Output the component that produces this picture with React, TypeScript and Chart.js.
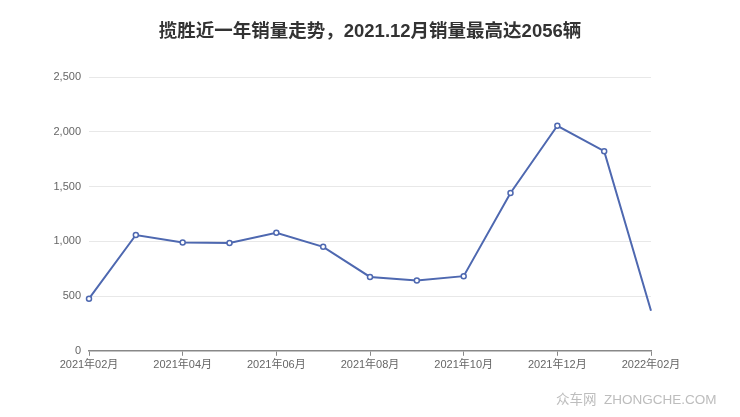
import React, { useEffect, useRef } from "react";
import { Chart, registerables } from "chart.js";

Chart.register(...registerables);

const titleText = "揽胜近一年销量走势，2021.12月销量最高达2056辆";
const months = [
  "2021年02月", "2021年03月", "2021年04月", "2021年05月", "2021年06月", "2021年07月",
  "2021年08月", "2021年09月", "2021年10月", "2021年11月", "2021年12月", "2022年01月", "2022年02月",
];
const sales = [476, 1058, 990, 986, 1078, 950, 675, 642, 682, 1442, 2056, 1824, 366];
const yTicks = [0, 500, 1000, 1500, 2000, 2500];
const watermark = "众车网  ZHONGCHE.COM";

const FONT = "'Liberation Sans', Arial, 'Noto Sans CJK SC', sans-serif";

export default function App() {
  const ref = useRef<HTMLCanvasElement | null>(null);
  useEffect(() => {
    if (!ref.current) return;
    const last = sales.length - 1;
    const chart = new Chart(ref.current, {
      type: "line",
      data: {
        labels: months,
        datasets: [
          {
            data: sales,
            borderColor: "#4e68b0",
            backgroundColor: "#ffffff",
            borderWidth: 2,
            pointRadius: (ctx: any) => (ctx.dataIndex === last ? 0 : 2.5),
            pointBorderWidth: 1.5,
            pointBorderColor: "#4e68b0",
            pointBackgroundColor: "#ffffff",
            tension: 0,
            clip: false as any,
          },
        ],
      },
      options: {
        responsive: false,
        animation: false,
        layout: { padding: { left: 0, right: 0, top: 0, bottom: 42 } },
        plugins: {
          legend: { display: false },
          tooltip: { enabled: false },
          title: {
            display: true,
            text: titleText,
            color: "#333333",
            font: { family: FONT, size: 18.5, weight: "bold" },
            padding: { top: 21, bottom: 34 },
          },
        },
        scales: {
          x: {
            offset: false,
            grid: {
              drawOnChartArea: false,
              drawTicks: true,
              tickLength: 5,
              tickColor: (ctx: any) => (ctx.index % 2 === 0 ? "#888888" : "rgba(0,0,0,0)"),
            },
            border: { display: true, color: "#888888", width: 1.5 },
            ticks: {
              autoSkip: false,
              maxRotation: 0,
              minRotation: 0,
              padding: 3,
              color: "#666666",
              font: { family: FONT, size: 11 },
              callback: (_v: any, i: number) => (i % 2 === 0 ? months[i] : ""),
            },
          },
          y: {
            min: yTicks[0],
            max: yTicks[yTicks.length - 1],
            afterFit: (scale: any) => {
              scale.width = 89;
            },
            afterBuildTicks: (scale: any) => {
              scale.ticks = yTicks.map((v) => ({ value: v }));
            },
            grid: { color: "#e8e8e8", drawTicks: false, lineWidth: 1 },
            border: { display: false },
            ticks: {
              padding: 8,
              color: "#666666",
              font: { family: FONT, size: 11 },
              callback: (v: any) => Number(v).toLocaleString("en-US"),
            },
          },
          yRight: {
            position: "right",
            min: yTicks[0],
            max: yTicks[yTicks.length - 1],
            afterFit: (scale: any) => {
              scale.width = 89;
            },
            grid: { display: false },
            border: { display: false },
            ticks: { display: false },
          },
        },
      },
    });
    return () => chart.destroy();
  }, []);
  return (
    <div style={{ position: "fixed", left: 0, top: 0, width: 740, height: 417, background: "#fff" }}>
      <canvas ref={ref} width={740} height={417} style={{ width: 740, height: 417, display: "block" }} />
      <div
        style={{
          position: "absolute",
          left: 556,
          top: 388,
          fontFamily: FONT,
          fontSize: 13.5,
          color: "#bdbdbd",
          whiteSpace: "pre",
        }}
      >
        {watermark}
      </div>
    </div>
  );
}
